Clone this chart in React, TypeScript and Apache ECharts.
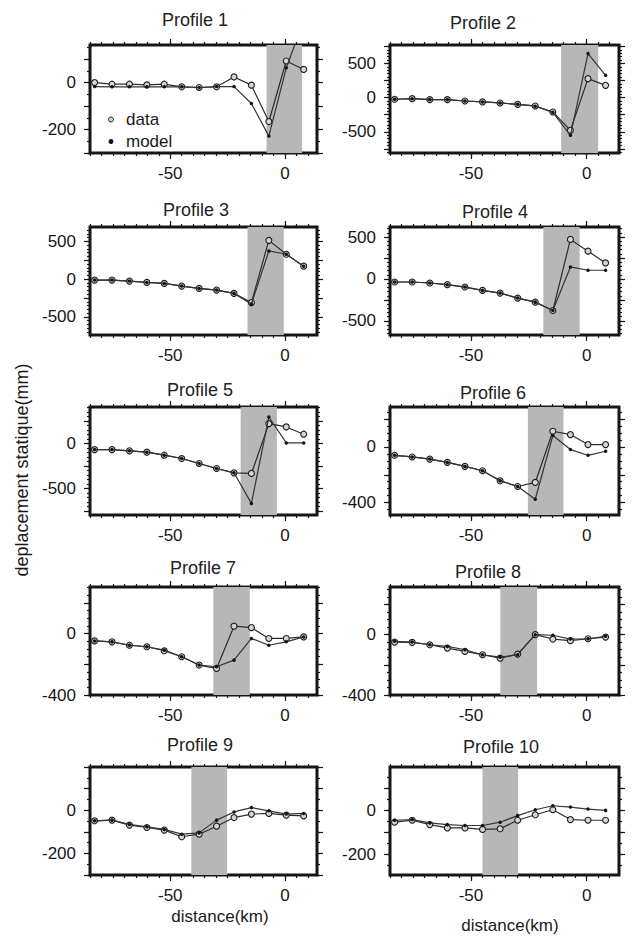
import React, { useEffect, useRef } from "react";
import * as echarts from "echarts";

// ---------- data ----------
const distances = [-83, -75.4, -67.8, -60.2, -52.6, -45, -37.4, -29.8, -22.2, -14.6, -7, 0.6, 8.2];

const profileNames = [
  "Profile 1", "Profile 2", "Profile 3", "Profile 4", "Profile 5",
  "Profile 6", "Profile 7", "Profile 8", "Profile 9", "Profile 10",
];

const data1 = [0, -7, -7, -10, -7, -18, -21, -18, 24, -11, -166, 92, 56];
const model1 = [-17, -18, -18, -18, -18, -18, -21, -17, -17, -89, -228, 63, 263];
const data2 = [-24, -15, -29, -29, -49, -63, -78, -98, -122, -210, -478, 278, 180];
const model2 = [-24, -15, -29, -29, -49, -63, -78, -98, -125, -215, -551, 644, 327];
const data3 = [-13, -13, -26, -44, -57, -92, -123, -145, -189, -311, 513, 329, 171];
const model3 = [-13, -13, -26, -44, -57, -92, -123, -145, -189, -329, 373, 329, 171];
const data4 = [-36, -36, -48, -68, -96, -136, -168, -228, -276, -376, 472, 332, 192];
const model4 = [-36, -36, -48, -68, -96, -136, -168, -228, -276, -376, 144, 104, 104];
const data5 = [-67, -67, -81, -96, -130, -167, -222, -278, -326, -333, 222, 185, 104];
const model5 = [-67, -67, -81, -96, -130, -167, -222, -278, -326, -667, 296, 7, 7];
const data6 = [-60, -72, -87, -111, -140, -171, -243, -284, -255, 113, 89, 17, 17];
const model6 = [-60, -72, -87, -111, -140, -171, -243, -284, -376, 82, -19, -60, -31];
const data7 = [-48, -54, -76, -86, -112, -151, -205, -227, 48, 39, -32, -32, -22];
const model7 = [-48, -54, -76, -86, -108, -151, -205, -216, -173, -32, -76, -54, -22];
const data8 = [-49, -51, -67, -89, -111, -133, -156, -129, 0, -29, -40, -27, -16];
const model8 = [-44, -49, -67, -78, -100, -133, -149, -133, 0, -4, -29, -27, -11];
const data9 = [-49, -46, -69, -80, -92, -123, -111, -74, -34, -18, -15, -23, -26];
const model9 = [-49, -46, -66, -77, -89, -111, -105, -46, -8, 12, -3, -18, -15];
const data10 = [-54, -45, -65, -80, -80, -87, -84, -45, -20, 3, -42, -45, -45];
const model10 = [-45, -42, -57, -65, -69, -69, -54, -24, 3, 21, 15, 6, 0];

const dataSeries = [data1, data2, data3, data4, data5, data6, data7, data8, data9, data10];
const modelSeries = [model1, model2, model3, model4, model5, model6, model7, model8, model9, model10];

// shaded fault zone per profile (km)
const bandStart = [-8, -11, -16.3, -18.7, -19.3, -25.4, -31.2, -37.3, -40.8, -45];
const bandEnd = [7.5, 5, -0.5, -3, -3.5, -10, -15.3, -21.4, -25.2, -29.6];

// axes
const X_MIN = -85;
const X_MAX = 14;
const xTickLabels = [-50, 0];
const yMin = [-300, -810, -740, -668, -796, -489, -400, -400, -300, -295];
const yMax = [160, 770, 690, 620, 407, 287, 303, 316, 200, 198];
const yTickStep = [100, 250, 250, 250, 250, 200, 200, 200, 100, 100];
const yTickLabels = [
  [-200, 0], [-500, 0, 500], [-500, 0, 500], [-500, 0, 500], [-500, 0],
  [-400, 0], [-400, 0], [-400, 0], [-200, 0], [-200, 0],
];

// ---------- layout ----------
const colLeft = [90, 390];
const colWidth = [227, 229];
const rowTop = [45, 227, 407, 587, 767];
const PANEL_H = 108;
const titleX = [195, 483, 196, 495, 200, 493, 203, 488, 200, 501];
const titleY = [20, 23, 210, 212, 390, 393, 568, 572, 745, 747];

const FONT = "'Liberation Sans', Arial, Helvetica, sans-serif";
const INK = "#161616";

function ticksIn(min: number, max: number, step: number): number[] {
  const out: number[] = [];
  const start = Math.ceil(min / step) * step;
  for (let v = start; v <= max + 1e-9; v += step) out.push(Math.round(v * 1000) / 1000);
  return out;
}

function buildOption() {
  const grids: any[] = [];
  const xAxes: any[] = [];
  const yAxes: any[] = [];
  const series: any[] = [];
  const graphics: any[] = [];
  const tickLine = { color: INK, width: 1.2 };
  const labelStyle = { fontSize: 17, color: INK, fontFamily: FONT };
  const noLine = { show: false, onZero: false };

  for (let i = 0; i < 10; i++) {
    const col = i % 2;
    const row = Math.floor(i / 2);
    grids.push({
      left: colLeft[col],
      top: rowTop[row],
      width: colWidth[col],
      height: PANEL_H,
      show: true,
      borderColor: INK,
      borderWidth: 3,
      backgroundColor: "transparent",
    });

    const xBase = {
      type: "value",
      gridIndex: i,
      min: X_MIN,
      max: X_MAX,
      axisLine: noLine,
      splitLine: { show: false },
      axisLabel: { show: false },
    };
    const xMajor = ticksIn(X_MIN, X_MAX, 50);
    const xMinor = ticksIn(X_MIN, X_MAX, 5);
    const mainX = xAxes.length;
    xAxes.push({
      ...xBase,
      position: "bottom",
      axisTick: { show: true, inside: false, length: 6, customValues: xMajor, lineStyle: tickLine },
      axisLabel: { show: true, customValues: xTickLabels, margin: 12, ...labelStyle },
    });
    xAxes.push({ ...xBase, position: "bottom", axisTick: { show: true, length: 3, customValues: xMinor, lineStyle: tickLine } });
    xAxes.push({ ...xBase, position: "top", axisTick: { show: true, length: 6, customValues: xMajor, lineStyle: tickLine } });
    xAxes.push({ ...xBase, position: "top", axisTick: { show: true, length: 3, customValues: xMinor, lineStyle: tickLine } });

    const yBase = {
      type: "value",
      gridIndex: i,
      min: yMin[i],
      max: yMax[i],
      axisLine: noLine,
      splitLine: { show: false },
      axisLabel: { show: false },
    };
    const yMajor = ticksIn(yMin[i], yMax[i], yTickStep[i]);
    const yMinor = ticksIn(yMin[i], yMax[i], 50);
    const mainY = yAxes.length;
    yAxes.push({
      ...yBase,
      position: "left",
      axisTick: { show: true, inside: false, length: 6, customValues: yMajor, lineStyle: tickLine },
      axisLabel: { show: true, customValues: yTickLabels[i], margin: 14, ...labelStyle },
    });
    yAxes.push({ ...yBase, position: "left", axisTick: { show: true, length: 3, customValues: yMinor, lineStyle: tickLine } });
    yAxes.push({ ...yBase, position: "right", axisTick: { show: true, length: 6, customValues: yMajor, lineStyle: tickLine } });
    yAxes.push({ ...yBase, position: "right", axisTick: { show: true, length: 3, customValues: yMinor, lineStyle: tickLine } });

    series.push({
      type: "line",
      name: "data",
      xAxisIndex: mainX,
      yAxisIndex: mainY,
      data: distances.map((d, j) => [d, dataSeries[i][j]]),
      symbol: "circle",
      symbolSize: 6,
      itemStyle: { color: "#d4d6d4", borderColor: "#1c1c1c", borderWidth: 1.1 },
      lineStyle: { color: "#2a2d2c", width: 1.2 },
      z: 3,
      markArea: {
        silent: true,
        itemStyle: { color: "#b7b7b7" },
        data: [[{ xAxis: bandStart[i] }, { xAxis: bandEnd[i] }]],
      },
    });
    series.push({
      type: "line",
      name: "model",
      xAxisIndex: mainX,
      yAxisIndex: mainY,
      data: distances.map((d, j) => [d, modelSeries[i][j]]),
      symbol: "circle",
      symbolSize: 3.5,
      itemStyle: { color: "#151515" },
      lineStyle: { color: "#333635", width: 1.2 },
      z: 4,
    });

    graphics.push({
      type: "text",
      x: titleX[i],
      y: titleY[i],
      style: {
        text: profileNames[i],
        fontSize: 18,
        fontFamily: FONT,
        fill: "#222",
        textAlign: "center",
        textVerticalAlign: "middle",
      },
    });
  }

  graphics.push({
    type: "text",
    x: 22,
    y: 470,
    rotation: Math.PI / 2,
    style: {
      text: "deplacement statique(mm)",
      fontSize: 18,
      fontFamily: FONT,
      fill: "#1a1a1a",
      textAlign: "center",
      textVerticalAlign: "middle",
    },
  });
  graphics.push({
    type: "text",
    x: 220,
    y: 916,
    style: { text: "distance(km)", fontSize: 17, fontFamily: FONT, fill: "#1a1a1a", textAlign: "center", textVerticalAlign: "middle" },
  });
  graphics.push({
    type: "text",
    x: 510,
    y: 925,
    style: { text: "distance(km)", fontSize: 17, fontFamily: FONT, fill: "#1a1a1a", textAlign: "center", textVerticalAlign: "middle" },
  });

  return {
    animation: false,
    backgroundColor: "#ffffff",
    grid: grids,
    xAxis: xAxes,
    yAxis: yAxes,
    series,
    graphic: graphics,
    legend: {
      data: [
        { name: "data", icon: "circle", itemStyle: { color: "#d4d6d4", borderColor: "#1c1c1c", borderWidth: 1 } },
        { name: "model", icon: "circle", itemStyle: { color: "#151515" } },
      ],
      orient: "vertical",
      left: 108,
      top: 111,
      padding: 0,
      itemWidth: 20,
      itemHeight: 5,
      itemGap: 5,
      selectedMode: false,
      textStyle: { fontSize: 17, color: "#1a1a1a", fontFamily: FONT },
    },
  };
}

export default function App() {
  const ref = useRef<HTMLDivElement>(null);
  useEffect(() => {
    if (!ref.current) return;
    const chart = echarts.init(ref.current, undefined, { renderer: "svg" });
    chart.setOption(buildOption() as any);
    return () => chart.dispose();
  }, []);
  return (
    <div
      ref={ref}
      style={{ position: "absolute", left: 0, top: 0, width: 633, height: 938, background: "#fff" }}
    />
  );
}
